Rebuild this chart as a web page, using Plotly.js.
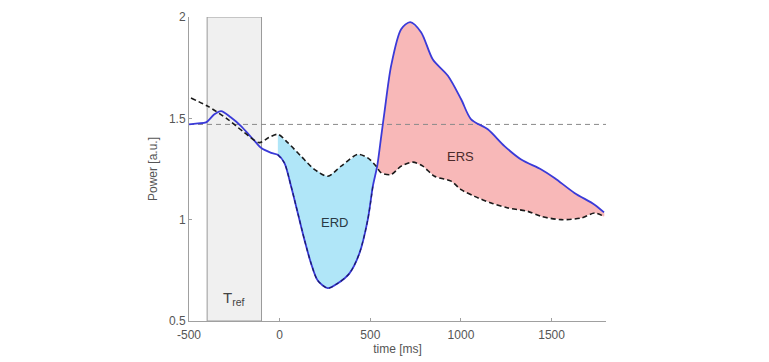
<!DOCTYPE html>
<html>
<head>
<meta charset="utf-8">
<script src="https://cdn.plot.ly/plotly-3.0.1.min.js"></script>
<style>html,body{margin:0;padding:0;background:#fff;}#chart{width:769px;height:362px;}</style>
</head>
<body>
<div id="chart"></div>
<script>
// Measured power (solid blue curve)
const powerX = [-500, -450, -406, -360, -323, -270, -213, -170, -130, -103, -47, -10, 26, 63, 100, 137, 173, 210, 265, 321, 385, 440, 486, 514, 538, 560, 578, 615, 670, 720, 780, 845, 928, 1001, 1056, 1148, 1240, 1332, 1443, 1516, 1626, 1737, 1789];
const powerY = [1.47, 1.475, 1.48, 1.52, 1.536, 1.505, 1.462, 1.42, 1.38, 1.355, 1.33, 1.32, 1.28, 1.165, 1.033, 0.90, 0.785, 0.70, 0.662, 0.686, 0.735, 0.834, 1.0, 1.165, 1.264, 1.41, 1.53, 1.76, 1.94, 1.975, 1.925, 1.79, 1.71, 1.594, 1.495, 1.446, 1.363, 1.297, 1.248, 1.206, 1.132, 1.074, 1.036];
// Reference power (black dashed curve)
const refX = [-489, -397, -286, -195, -112, -60, -10, 45, 118, 192, 265, 339, 431, 486, 532, 560, 615, 670, 735, 790, 854, 946, 1001, 1075, 1167, 1259, 1369, 1443, 1553, 1663, 1737, 1789];
const refY = [1.60, 1.56, 1.495, 1.43, 1.38, 1.405, 1.421, 1.38, 1.313, 1.248, 1.214, 1.264, 1.322, 1.305, 1.264, 1.231, 1.223, 1.264, 1.284, 1.264, 1.214, 1.19, 1.148, 1.115, 1.082, 1.058, 1.041, 1.016, 1.0, 1.008, 1.033, 1.016];
const baseline = 1.47;
const trefRange = [-400, -100];
const xTicks = [-500, 0, 500, 1000, 1500];
const yTicks = [0.5, 1, 1.5, 2];
const ERD_RANGE = [-10, 535];
const ERS_RANGE = [535, 1789];

function interp(xs, ys, x) {
  if (x <= xs[0]) return ys[0];
  for (let i = 1; i < xs.length; i++) {
    if (x <= xs[i]) {
      const t = (x - xs[i-1]) / (xs[i] - xs[i-1]);
      return ys[i-1] + t * (ys[i] - ys[i-1]);
    }
  }
  return ys[ys.length - 1];
}
function band(range) {
  const xs = [];
  powerX.forEach(x => { if (x >= range[0] && x <= range[1]) xs.push(x); });
  refX.forEach(x => { if (x >= range[0] && x <= range[1]) xs.push(x); });
  xs.push(range[0], range[1]);
  const u = Array.from(new Set(xs)).sort((a, b) => a - b);
  const top = u.map(x => interp(powerX, powerY, x));
  const bot = u.map(x => interp(refX, refY, x));
  return {x: u.concat(u.slice().reverse()), y: top.concat(bot.slice().reverse())};
}
const erd = band(ERD_RANGE);
const ers = band(ERS_RANGE);
const erdEdgeX = powerX.filter(x => x >= ERD_RANGE[0] && x <= ERD_RANGE[1]);
const erdEdgeY = erdEdgeX.map(x => interp(powerX, powerY, x));

const traces = [
  {x: erd.x, y: erd.y, type: 'scatter', mode: 'lines', fill: 'toself', fillcolor: '#b0e6f8',
   line: {color: 'rgba(0,0,0,0)', width: 0, shape: 'spline', smoothing: 0.6}, hoverinfo: 'skip'},
  {x: ers.x, y: ers.y, type: 'scatter', mode: 'lines', fill: 'toself', fillcolor: '#f8b8b8',
   line: {color: 'rgba(0,0,0,0)', width: 0, shape: 'spline', smoothing: 0.6}, hoverinfo: 'skip'},
  {x: [-500, 1800], y: [baseline, baseline], type: 'scatter', mode: 'lines',
   line: {color: '#8a8a8a', width: 1, dash: '5px,4px'}},
  {x: powerX, y: powerY, type: 'scatter', mode: 'lines',
   line: {color: '#3a3ad8', width: 1.8, shape: 'spline', smoothing: 0.8}},
  {x: erdEdgeX, y: erdEdgeY, type: 'scatter', mode: 'lines',
   line: {color: '#1c1c6a', width: 1.2, dash: '4px,3px', shape: 'spline', smoothing: 0.8}},
  {x: refX, y: refY, type: 'scatter', mode: 'lines',
   line: {color: '#1a1a1a', width: 1.6, dash: '5px,3px', shape: 'spline', smoothing: 0.8}}
];

const layout = {
  width: 769, height: 362,
  margin: {l: 189, r: 163, t: 17, b: 41},
  paper_bgcolor: '#ffffff', plot_bgcolor: '#ffffff',
  showlegend: false,
  font: {family: 'Liberation Sans, Arial, sans-serif', size: 11, color: '#555'},
  xaxis: {
    range: [-500, 1800], tickvals: xTicks, ticktext: xTicks.map(String),
    showgrid: false, zeroline: false, showline: true, linecolor: '#a0a0a0', linewidth: 1,
    ticks: 'inside', ticklen: 3, tickcolor: '#a0a0a0', ticklabelstandoff: 3,
    tickfont: {size: 12, color: '#555'},
    title: {text: 'time [ms]', font: {size: 12, color: '#555'}, standoff: 3}
  },
  yaxis: {
    range: [0.5, 2], tickvals: yTicks, ticktext: yTicks.map(String),
    showgrid: false, zeroline: false, showline: true, linecolor: '#a0a0a0', linewidth: 1,
    ticks: 'inside', ticklen: 3, tickcolor: '#a0a0a0',
    tickfont: {size: 12, color: '#555'},
    title: {text: 'Power [a.u.]', font: {size: 12, color: '#555'}, standoff: 8}
  },
  shapes: [
    {type: 'rect', xref: 'x', yref: 'y', x0: trefRange[0], x1: trefRange[1], y0: 0.5, y1: 2,
     fillcolor: '#f0f0f0', line: {color: '#9a9a9a', width: 1}, layer: 'below'}
  ],
  annotations: [
    {x: 300, y: 0.985, xref: 'x', yref: 'y', text: 'ERD', showarrow: false,
     font: {size: 13, color: '#2a3a44'}},
    {x: 1000, y: 1.31, xref: 'x', yref: 'y', text: 'ERS', showarrow: false,
     font: {size: 13, color: '#4a2a2a'}},
    {x: -250, y: 0.61, xref: 'x', yref: 'y', text: 'T<sub>ref</sub>', showarrow: false,
     font: {size: 15, color: '#444'}}
  ]
};

Plotly.newPlot('chart', traces, layout, {staticPlot: true, displayModeBar: false});
</script>
</body>
</html>
